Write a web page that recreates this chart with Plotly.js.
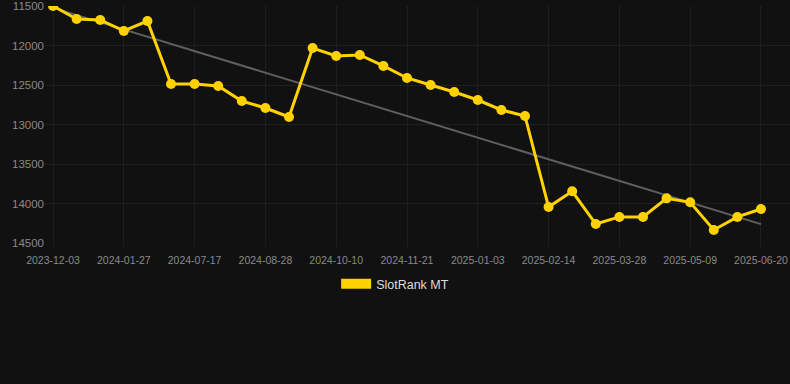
<!DOCTYPE html>
<html>
<head>
<meta charset="utf-8">
<script src="https://cdn.plot.ly/plotly-3.0.1.min.js"></script>
<style>
html,body{margin:0;padding:0;background:#111111;}
#chart{width:790px;height:384px;}
</style>
</head>
<body>
<div id="chart"></div>
<script>
var dates = ["2023-12-03","2023-12-21","2024-01-08","2024-01-27","2024-02-14","2024-06-29",
  "2024-07-17","2024-07-31","2024-08-14","2024-08-28","2024-09-11","2024-09-26",
  "2024-10-10","2024-10-24","2024-11-07","2024-11-21","2024-12-05","2024-12-19",
  "2025-01-03","2025-01-17","2025-01-31","2025-02-14","2025-02-28","2025-03-14",
  "2025-03-28","2025-04-11","2025-04-25","2025-05-09","2025-05-23","2025-06-06","2025-06-20"];
var ranks = [11500,11665,11677,11816,11690,12487,
  12487,12513,12703,12791,12905,12032,
  12133,12120,12259,12411,12500,12589,
  12690,12816,12892,14045,13845,14260,
  14170,14170,13935,13985,14335,14170,14070];
var tickLabels = ["2023-12-03","2024-01-27","2024-07-17","2024-08-28","2024-10-10","2024-11-21",
  "2025-01-03","2025-02-14","2025-03-28","2025-05-09","2025-06-20"];
var seriesName = "SlotRank MT";

// linear regression trend over the series
var n = ranks.length, sx=0, sy=0, sxy=0, sxx=0;
for (var i=0;i<n;i++){ sx+=i; sy+=ranks[i]; sxy+=i*ranks[i]; sxx+=i*i; }
var slope = (n*sxy - sx*sy)/(n*sxx - sx*sx);
var intercept = (sy - slope*sx)/n;
var trendX = [dates[0], dates[n-1]];
var trendY = [intercept, intercept + slope*(n-1)];

var gold = "#FFD200";
var traces = [
  {x: trendX, y: trendY, type:"scatter", mode:"lines", line:{color:"#5f5f5f", width:2},
   showlegend:false, hoverinfo:"skip"},
  {x: dates, y: ranks, type:"scatter", mode:"lines+markers", name: seriesName,
   line:{color:gold, width:3}, marker:{color:gold, size:10}, showlegend:false},
  {x: [null], y: [null], type:"scatter", mode:"lines", name: seriesName,
   line:{color:gold, width:12}, showlegend:true}
];

var layout = {
  width:790, height:384,
  paper_bgcolor:"#111111", plot_bgcolor:"#111111",
  margin:{l:45, r:0, t:6, b:141},
  font:{family:"Liberation Sans, Arial, sans-serif", color:"#8a8a8a", size:11},
  xaxis:{type:"category", categoryorder:"array", categoryarray: dates,
    tickmode:"array", tickvals: tickLabels, ticktext: tickLabels,
    range:[-0.34, 31.23], showgrid:true, gridcolor:"#1f1f1f", gridwidth:1,
    zeroline:false, showline:false, ticks:"outside", ticklen:5, tickcolor:"#1a1a1a",
    ticklabelstandoff:2, tickfont:{size:10.5, color:"#8a8a8a"}},
  yaxis:{range:[14500, 11500], tickvals:[11500,12000,12500,13000,13500,14000,14500],
    tickformat:"d",
    showgrid:true, gridcolor:"#1f1f1f", gridwidth:1, zeroline:false, showline:false,
    ticks:"", tickfont:{size:11.5, color:"#8a8a8a"}},
  showlegend:true,
  legend:{orientation:"h", x:0.47, xanchor:"center", y:-0.11, yanchor:"top",
    font:{size:12.5, color:"#dddddd"}, bgcolor:"rgba(0,0,0,0)"}
};

Plotly.newPlot("chart", traces, layout, {displayModeBar:false, staticPlot:true});
</script>
</body>
</html>
